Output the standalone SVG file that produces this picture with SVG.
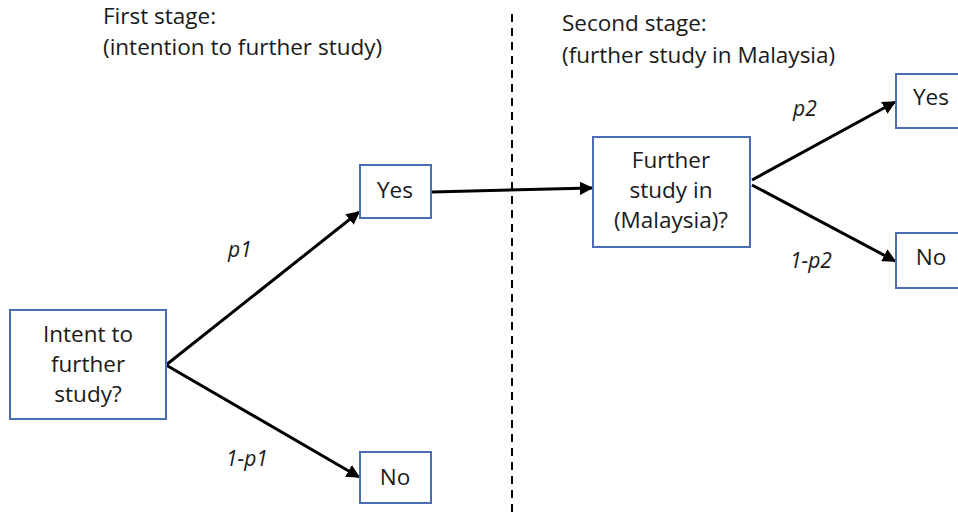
<svg xmlns="http://www.w3.org/2000/svg" width="958" height="512" viewBox="0 0 958 512">
<defs>
<style>
.box{fill:#fff;stroke:#4a6fb5;stroke-width:2}
.t{font-family:"Open Sans","Liberation Sans",sans-serif;font-size:22.5px;fill:#1a1a1a}
.c{text-anchor:middle}
.lbl{font-family:"Open Sans","Liberation Sans",sans-serif;font-size:21px;font-style:italic;fill:#1a1a1a}
.ln{stroke:#000;stroke-width:3;fill:none;marker-end:url(#ah)}
</style>
<marker id="ah" viewBox="0 0 10 10" refX="9" refY="5" markerWidth="4.5" markerHeight="4.5" orient="auto" markerUnits="strokeWidth">
<path d="M0,0 L10,5 L0,10 z" fill="#000"/>
</marker>
</defs>
<rect width="958" height="512" fill="#fff"/>
<g id="headers">
<text class="t" x="103" y="24">First stage:</text>
<text class="t" x="103" y="55">(intention to further study)</text>
<text class="t" x="562" y="31">Second stage:</text>
<text class="t" x="562" y="63">(further study in Malaysia)</text>
</g>
<line x1="512" y1="14" x2="512" y2="512" stroke="#000" stroke-width="2" stroke-dasharray="8,6"/>
<g id="connectors">
<line class="ln" x1="166" y1="365" x2="359" y2="212"/>
<line class="ln" x1="166" y1="365" x2="359" y2="477"/>
<line class="ln" x1="432" y1="192" x2="592" y2="188"/>
<line class="ln" x1="752" y1="180" x2="895" y2="102"/>
<line class="ln" x1="752" y1="185" x2="895" y2="261"/>
<text class="lbl" x="228" y="257">p1</text>
<text class="lbl" x="226" y="466">1-p1</text>
<text class="lbl" x="793" y="116">p2</text>
<text class="lbl" x="790" y="268">1-p2</text>
</g>
<g id="intent">
<rect class="box" x="10" y="310" width="156" height="109"/>
<text class="t c" x="88" y="342">Intent to</text>
<text class="t c" x="88" y="372">further</text>
<text class="t c" x="88" y="402">study?</text>
</g>
<g id="yes1">
<rect class="box" x="360" y="165" width="71" height="53"/>
<text class="t c" x="395" y="198">Yes</text>
</g>
<g id="no1">
<rect class="box" x="360" y="452" width="71" height="51"/>
<text class="t c" x="395" y="485">No</text>
</g>
<g id="further">
<rect class="box" x="593" y="137" width="157" height="110"/>
<text class="t c" x="671" y="168">Further</text>
<text class="t c" x="671" y="198">study in</text>
<text class="t c" x="671" y="228">(Malaysia)?</text>
</g>
<g id="yes2">
<rect class="box" x="896" y="74" width="70" height="54"/>
<text class="t c" x="931" y="105">Yes</text>
</g>
<g id="no2">
<rect class="box" x="896" y="233" width="70" height="55"/>
<text class="t c" x="931" y="265">No</text>
</g>
</svg>
